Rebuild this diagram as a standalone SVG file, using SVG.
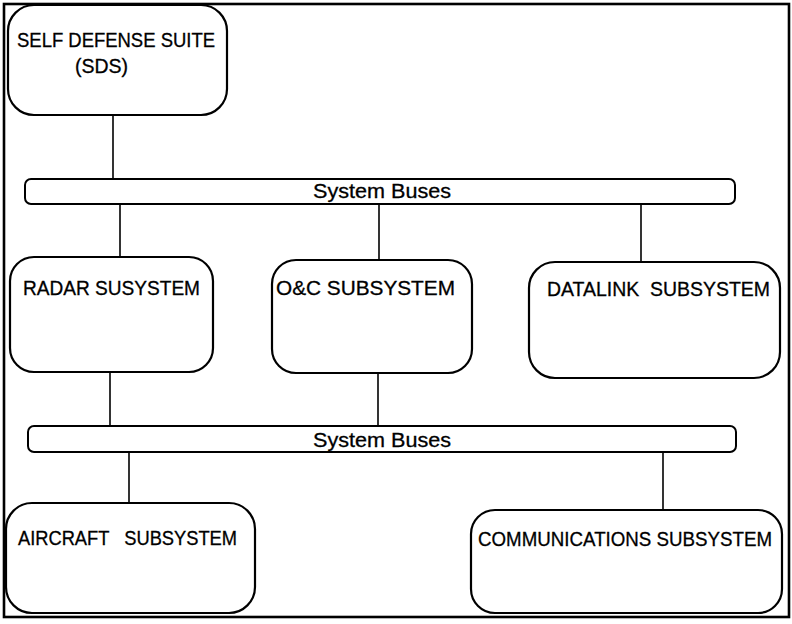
<svg xmlns="http://www.w3.org/2000/svg" width="792" height="624" viewBox="0 0 792 624">
<style>
.box{fill:#fff;stroke:#000;stroke-width:2.2}
.bus{fill:#fff;stroke:#000;stroke-width:2}
.lbl{font-family:"Liberation Sans",Arial,sans-serif;font-size:20px;fill:#000;stroke:#000;stroke-width:0.3}
.conn line{stroke:#000;stroke-width:1.6}
</style>
<rect x="0" y="0" width="792" height="624" fill="#fff"/>
<rect id="frame" x="4" y="4" width="785" height="613" fill="none" stroke="#000" stroke-width="2.6"/>
<g class="conn" id="connectors">
<line x1="113" y1="115" x2="113" y2="179"/>
<line x1="120" y1="204" x2="120" y2="257"/>
<line x1="379" y1="204" x2="379" y2="260"/>
<line x1="641" y1="204" x2="641" y2="262"/>
<line x1="110" y1="372" x2="110" y2="426"/>
<line x1="378" y1="373" x2="378" y2="426"/>
<line x1="129" y1="452" x2="129" y2="503"/>
<line x1="663" y1="452" x2="663" y2="510"/>
</g>
<g id="sds">
<rect class="box" x="8" y="5" width="219" height="110" rx="26"/>
<text class="lbl" x="17" y="47" font-size="21" textLength="198" lengthAdjust="spacingAndGlyphs">SELF DEFENSE SUITE</text>
<text class="lbl" x="75" y="73" font-size="21" textLength="53" lengthAdjust="spacingAndGlyphs">(SDS)</text>
</g>
<g id="bus1">
<rect class="bus" x="25" y="179" width="710" height="25" rx="6"/>
<text class="lbl" x="313" y="198" textLength="138" lengthAdjust="spacingAndGlyphs">System Buses</text>
</g>
<g id="radar">
<rect class="box" x="10" y="257" width="203" height="115" rx="24"/>
<text class="lbl" x="23" y="295" textLength="177" lengthAdjust="spacingAndGlyphs">RADAR SUSYSTEM</text>
</g>
<g id="oc">
<rect class="box" x="272" y="260" width="200" height="113" rx="24"/>
<text class="lbl" x="276" y="295" textLength="179" lengthAdjust="spacingAndGlyphs">O&amp;C SUBSYSTEM</text>
</g>
<g id="datalink">
<rect class="box" x="529" y="262" width="251" height="116" rx="26"/>
<text class="lbl" x="547" y="296" textLength="223" lengthAdjust="spacingAndGlyphs" xml:space="preserve">DATALINK  SUBSYSTEM</text>
</g>
<g id="bus2">
<rect class="bus" x="28" y="426" width="708" height="26" rx="6"/>
<text class="lbl" x="313" y="447" textLength="138" lengthAdjust="spacingAndGlyphs">System Buses</text>
</g>
<g id="aircraft">
<rect class="box" x="6" y="503" width="249" height="110" rx="26"/>
<text class="lbl" x="18" y="545" textLength="219" lengthAdjust="spacingAndGlyphs" xml:space="preserve">AIRCRAFT   SUBSYSTEM</text>
</g>
<g id="comms">
<rect class="box" x="471" y="510" width="311" height="103" rx="24"/>
<text class="lbl" x="478" y="546" font-size="18" textLength="294" lengthAdjust="spacingAndGlyphs">COMMUNICATIONS SUBSYSTEM</text>
</g>
</svg>
